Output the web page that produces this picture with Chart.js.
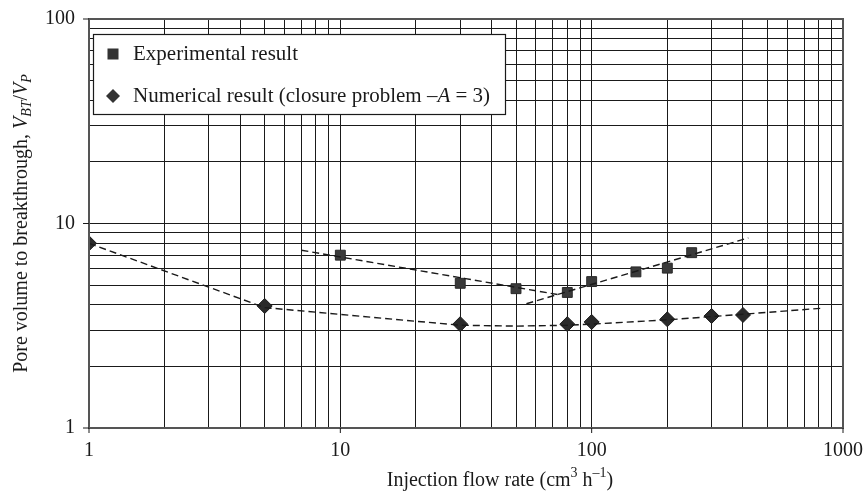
<!DOCTYPE html>
<html>
<head>
<meta charset="utf-8">
<script src="https://cdn.jsdelivr.net/npm/chart.js@4.4.0/dist/chart.umd.min.js"></script>
<style>
  html, body { margin: 0; padding: 0; background: #fff; }
  #contenedor { width: 865px; height: 497px; }
</style>
</head>
<body>
<div id="contenedor"><canvas id="grafica"></canvas></div>
<script>
// valores
const expFlow = [10, 30, 50, 80, 100, 150, 200, 250];
const expVolume = [7.0, 5.1, 4.8, 4.6, 5.2, 5.8, 6.05, 7.2];
const numFlow = [1, 5, 30, 80, 100, 200, 300, 400];
const numVolume = [8.0, 3.95, 3.22, 3.22, 3.3, 3.4, 3.53, 3.57];

// lineas de tendencia (discontinuas)
const fitDownFlow = [7, 75];
const fitDownVolume = [7.4, 4.47];
const fitUpFlow = [55, 420];
const fitUpVolume = [4.05, 8.5];
const curveFlow = [1, 5, 30, 50, 80, 100, 200, 400, 840];
const curveVolume = [8.0, 3.88, 3.18, 3.15, 3.18, 3.22, 3.38, 3.6, 3.86];

const xTickLabels = ['1', '10', '100', '1000'];
const yTickLabels = ['1', '10', '100'];
const gridSteps = [1, 2, 3, 4, 5, 6, 7, 8, 9];

const fuente = '"Liberation Serif", "Times New Roman", serif';
const tinta = '#1a1a1a';

function pares(xs, ys) {
  return xs.map((x, i) => ({ x: x, y: ys[i] }));
}

function valoresRejilla(etiquetas) {
  const vals = [];
  etiquetas.forEach((e, i) => {
    const base = Number(e);
    if (i === etiquetas.length - 1) { vals.push(base); return; }
    gridSteps.forEach(s => vals.push(s * base));
  });
  return vals.map(v => ({ value: v }));
}

function dibujarTexto(ctx, partes, x, y, size) {
  const fontDe = p => (p.italic ? 'italic ' : '') + Math.round(p.sub || p.sup ? size * 0.68 : size) + 'px ' + fuente;
  let total = 0;
  partes.forEach(p => { ctx.font = fontDe(p); total += ctx.measureText(p.t).width; });
  let cx = x - total / 2;
  partes.forEach(p => {
    ctx.font = fontDe(p);
    const dy = p.sub ? size * 0.25 : (p.sup ? -size * 0.38 : 0);
    ctx.fillText(p.t, cx, y + dy);
    cx += ctx.measureText(p.t).width;
  });
}

const extras = {
  id: 'extras',
  afterDraw(chart) {
    const { ctx, chartArea: a, scales } = chart;
    ctx.save();

    // marco
    ctx.strokeStyle = '#555';
    ctx.lineWidth = 2;
    ctx.strokeRect(a.left, a.top, a.right - a.left, a.bottom - a.top);

    // marcas principales
    ctx.strokeStyle = tinta;
    ctx.lineWidth = 1;
    yTickLabels.forEach(l => {
      const py = scales.y.getPixelForValue(Number(l));
      ctx.beginPath(); ctx.moveTo(a.left - 6, py); ctx.lineTo(a.left, py); ctx.stroke();
    });
    xTickLabels.forEach(l => {
      const px = scales.x.getPixelForValue(Number(l));
      ctx.beginPath(); ctx.moveTo(px, a.bottom); ctx.lineTo(px, a.bottom + 5); ctx.stroke();
    });

    ctx.fillStyle = tinta;
    ctx.textBaseline = 'middle';

    // titulo eje x
    dibujarTexto(ctx, [
      { t: 'Injection flow rate (cm' }, { t: '3', sup: true },
      { t: ' h' }, { t: '\u20131', sup: true }, { t: ')' }
    ], 500, 481, 20);

    // titulo eje y
    ctx.save();
    ctx.translate(22, (a.top + a.bottom) / 2);
    ctx.rotate(-Math.PI / 2);
    dibujarTexto(ctx, [
      { t: 'Pore volume to breakthrough, ' },
      { t: 'V', italic: true }, { t: 'BT', italic: true, sub: true },
      { t: '/' },
      { t: 'V', italic: true }, { t: 'P', italic: true, sub: true }
    ], 0, 0, 20);
    ctx.restore();

    // leyenda
    const lx = 93, ly = 34, lw = 412, lh = 80;
    ctx.fillStyle = '#fff';
    ctx.fillRect(lx, ly, lw, lh);
    ctx.strokeStyle = tinta;
    ctx.lineWidth = 1.2;
    ctx.strokeRect(lx + 0.5, ly + 0.5, lw, lh);

    ctx.fillStyle = '#333';
    ctx.fillRect(113 - 5.5, 54 - 5.5, 11, 11);
    ctx.beginPath();
    ctx.moveTo(113, 96 - 7); ctx.lineTo(120, 96); ctx.lineTo(113, 96 + 7); ctx.lineTo(106, 96);
    ctx.closePath(); ctx.fill();

    ctx.fillStyle = tinta;
    ctx.textAlign = 'left';
    ctx.font = '21px ' + fuente;
    ctx.fillText('Experimental result', 133, 54);
    const p1 = 'Numerical result (closure problem \u2013';
    ctx.fillText(p1, 133, 96);
    let cx = 133 + ctx.measureText(p1).width;
    ctx.font = 'italic 21px ' + fuente;
    ctx.fillText('A', cx, 96);
    cx += ctx.measureText('A').width;
    ctx.font = '21px ' + fuente;
    ctx.fillText(' = 3)', cx, 96);

    ctx.restore();
  }
};

const lineaDisc = {
  showLine: true, pointRadius: 0, borderColor: tinta, borderWidth: 1.4,
  borderDash: [7, 4], fill: false
};

const config = {
  type: 'scatter',
  data: {
    datasets: [
      Object.assign({ label: 'fitDown', data: pares(fitDownFlow, fitDownVolume) }, lineaDisc),
      Object.assign({ label: 'fitUp', data: pares(fitUpFlow, fitUpVolume) }, lineaDisc),
      Object.assign({ label: 'curve', data: pares(curveFlow, curveVolume) }, lineaDisc),
      {
        label: 'Experimental result', data: pares(expFlow, expVolume),
        pointStyle: 'rect', pointRadius: 7, backgroundColor: '#3a3a3a', borderColor: '#2a2a2a', borderWidth: 1
      },
      {
        label: 'Numerical result', data: pares(numFlow, numVolume),
        pointStyle: 'rectRot', pointRadius: 7.5, backgroundColor: '#2a2a2a', borderColor: '#1a1a1a', borderWidth: 1
      }
    ]
  },
  options: {
    responsive: true,
    maintainAspectRatio: false,
    animation: false,
    layout: { padding: { left: 0, right: 22, top: 19, bottom: 0 } },
    plugins: { legend: { display: false }, tooltip: { enabled: false } },
    scales: {
      x: {
        type: 'logarithmic', min: 1, max: 1000,
        afterBuildTicks: s => { s.ticks = valoresRejilla(xTickLabels); },
        afterFit: s => { s.height = 69; s.paddingLeft = 0; s.paddingRight = 0; },
        grid: { color: tinta, lineWidth: 1, drawTicks: false },
        border: { display: false },
        ticks: {
          autoSkip: false, maxRotation: 0, padding: 11, color: tinta,
          font: { family: fuente, size: 20 },
          callback: v => xTickLabels.includes(String(v)) ? String(v) : ''
        }
      },
      y: {
        type: 'logarithmic', min: 1, max: 100,
        afterBuildTicks: s => { s.ticks = valoresRejilla(yTickLabels); },
        afterFit: s => { s.width = 89; s.paddingTop = 0; s.paddingBottom = 0; },
        grid: { color: tinta, lineWidth: 1, drawTicks: false },
        border: { display: false },
        ticks: {
          autoSkip: false, padding: 14, color: tinta,
          font: { family: fuente, size: 20 },
          callback: v => yTickLabels.includes(String(v)) ? String(v) : ''
        }
      }
    }
  },
  plugins: [extras]
};

new Chart(document.getElementById('grafica'), config);
</script>
</body>
</html>
